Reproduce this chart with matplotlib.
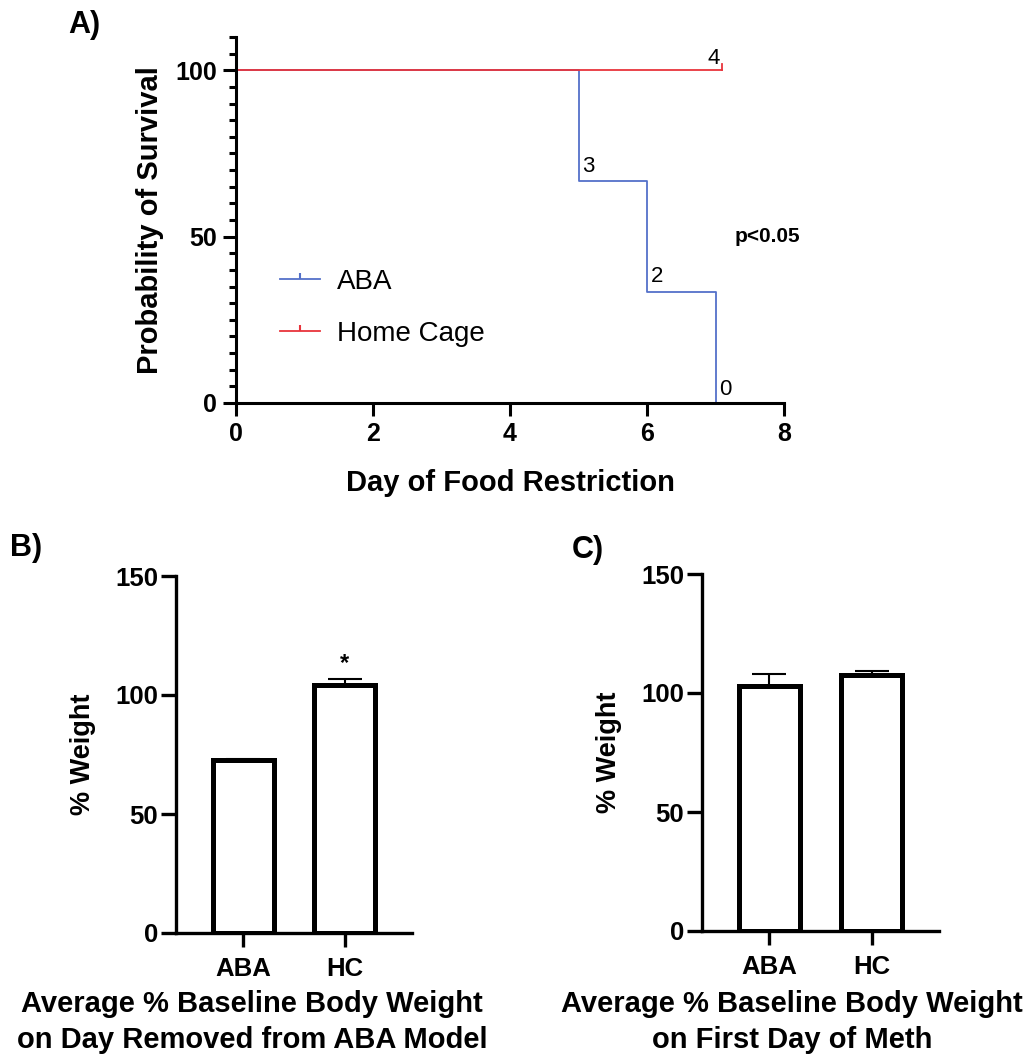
import matplotlib
matplotlib.use("Agg")
import matplotlib.pyplot as plt
from matplotlib.lines import Line2D
from matplotlib.path import Path
import numpy as np

plt.rcParams['font.family'] = ['Liberation Sans', 'DejaVu Sans']

# Panel A: Kaplan-Meier survival
aba_days = [0, 5, 5, 6, 6, 7, 7]
aba_surv = [100, 100, 66.67, 66.67, 33.33, 33.33, 0]
hc_days = [0, 7.1]
hc_surv = [100, 100]
at_risk_x = [5.05, 6.05, 7.05, 6.88]
at_risk_y = [68, 35, 1, 100.5]
at_risk_txt = ['3', '2', '0', '4']

# Panel B / C: bars
groups = ['ABA', 'HC']
weight_removed = [72.5, 104.0]
weight_removed_err = [0.7, 2.7]
weight_meth = [103.0, 107.5]
weight_meth_err = [5.0, 1.8]

blue = '#5471c9'
red = '#e8343c'
tick_up = Path([[0, 0], [0, 1]])

fig = plt.figure(figsize=(10.32, 10.59), dpi=100)
W, H = 1032, 1059


def px_axes(l, t, r, b):
    return fig.add_axes([l / W, 1 - b / H, (r - l) / W, (b - t) / H])


def style(ax, lw=2.2):
    for s in ['top', 'right']:
        ax.spines[s].set_visible(False)
    for s in ['left', 'bottom']:
        ax.spines[s].set_linewidth(lw)
    ax.tick_params(width=lw, direction='out')


# ---- A
axA = px_axes(236, 37, 784, 403)
style(axA)
axA.step(aba_days, aba_surv, where='post', color=blue, lw=1.3)
axA.plot(hc_days, hc_surv, color=red, lw=1.3)
axA.plot([hc_days[-1], hc_days[-1]], [100, 102], color=red, lw=1.3)
for x, y, t in zip(at_risk_x, at_risk_y, at_risk_txt):
    axA.text(x, y, t, fontsize=16, va='bottom', ha='left')
axA.text(7.28, 50, 'p<0.05', fontsize=15, fontweight='bold', va='center')
axA.set_xlim(0, 8)
axA.set_ylim(0, 110)
axA.set_xticks([0, 2, 4, 6, 8])
axA.set_yticks([0, 50, 100])
axA.set_yticks(np.arange(0, 111, 5), minor=True)
axA.tick_params(which='major', length=9.5, pad=4)
axA.tick_params(which='minor', width=2.2, length=5)
for lab in axA.get_xticklabels() + axA.get_yticklabels():
    lab.set_fontsize(18)
    lab.set_fontweight('bold')
axA.set_xlabel('Day of Food Restriction', fontsize=21, fontweight='bold', labelpad=17)
axA.set_ylabel('Probability of Survival', fontsize=21, fontweight='bold', labelpad=8)
handles = [Line2D([0], [0], color=blue, lw=1.3, marker=tick_up, markersize=9,
                  markeredgewidth=1.5, markeredgecolor=blue),
           Line2D([0], [0], color=red, lw=1.3, marker=tick_up, markersize=9,
                  markeredgewidth=1.5, markeredgecolor=red)]
axA.legend(handles, ['ABA', 'Home Cage'], loc='lower left', bbox_to_anchor=(0.035, 0.085),
           frameon=False, fontsize=20, handlelength=1.45, handletextpad=0.6,
           labelspacing=0.95, numpoints=1)
fig.text(68 / W, 1 - 25 / H, 'A)', fontsize=22, fontweight='bold', va='center')


def bar_panel(ax, vals, errs):
    style(ax, lw=2.4)
    x = np.arange(len(groups))
    ax.errorbar(x, vals, yerr=[np.zeros(len(errs)), errs], fmt='none', ecolor='black',
                elinewidth=1.5, capsize=12, capthick=1.5, zorder=1)
    ax.bar(x, vals, width=0.6, facecolor='white', edgecolor='black', linewidth=3.6, zorder=2)
    ax.set_xlim(-0.66, 1.66)
    ax.set_ylim(0, 150)
    ax.set_yticks([0, 50, 100, 150])
    ax.set_xticks(x)
    ax.set_xticklabels(groups)
    for lab in ax.get_xticklabels() + ax.get_yticklabels():
        lab.set_fontsize(18.5)
        lab.set_fontweight('bold')
    ax.tick_params(axis='y', length=11, pad=2)
    ax.tick_params(axis='x', length=10, pad=7)
    ax.set_ylabel('% Weight', fontsize=19.5, fontweight='bold', labelpad=14)


# ---- B
axB = px_axes(176, 576, 412, 933)
bar_panel(axB, weight_removed, weight_removed_err)
axB.text(1, weight_removed[1] + weight_removed_err[1] + 1.5, '*', ha='center', va='bottom',
         fontsize=17, fontweight='bold')
fig.text(252 / W, 1 - 990 / H, 'Average % Baseline Body Weight\non Day Removed from ABA Model',
         ha='center', va='top', fontsize=21, fontweight='bold', linespacing=1.38)
fig.text(10 / W, 1 - 548 / H, 'B)', fontsize=22, fontweight='bold', va='center')

# ---- C
axC = px_axes(702, 574, 939, 931)
bar_panel(axC, weight_meth, weight_meth_err)
fig.text(792 / W, 1 - 990 / H, 'Average % Baseline Body Weight\non First Day of Meth',
         ha='center', va='top', fontsize=21, fontweight='bold', linespacing=1.38)
fig.text(572 / W, 1 - 550 / H, 'C)', fontsize=22, fontweight='bold', va='center')

fig.savefig('out.png', dpi=100)
